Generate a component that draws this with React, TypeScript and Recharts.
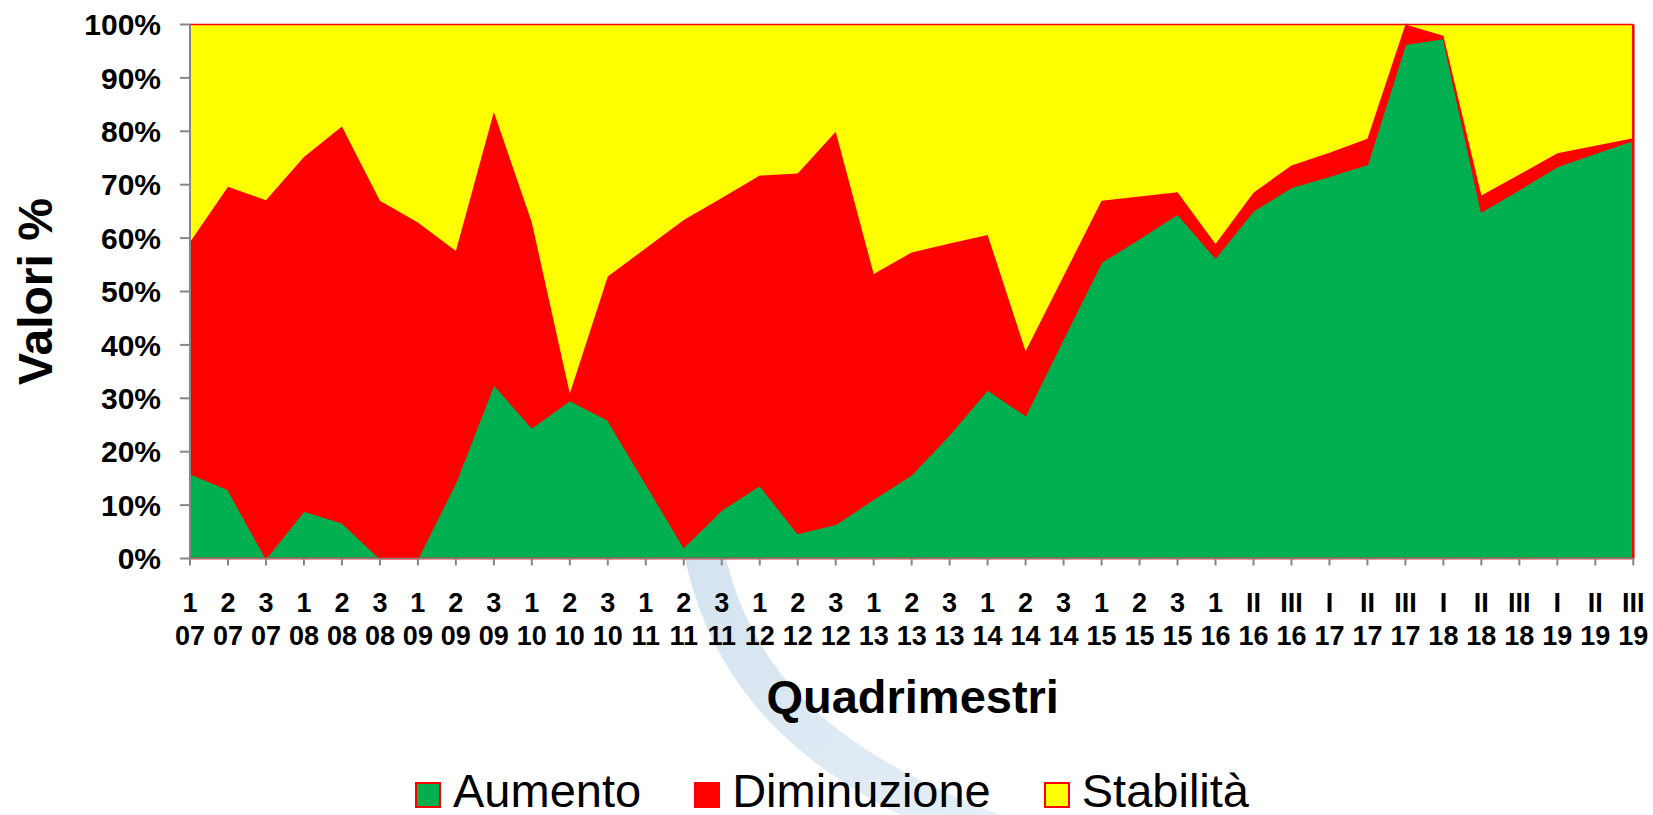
import React from 'react';
import {
  AreaChart,
  Area,
  XAxis,
  YAxis,
  Legend,
  Label,
  ReferenceLine,
} from 'recharts';

const periods = ['1','2','3','1','2','3','1','2','3','1','2','3','1','2','3','1','2','3','1','2','3','1','2','3','1','2','3','1','II','III','I','II','III','I','II','III','I','II','III'];
const years = ['07','07','07','08','08','08','09','09','09','10','10','10','11','11','11','12','12','12','13','13','13','14','14','14','15','15','15','16','16','16','17','17','17','18','18','18','19','19','19'];

const aumento = [15.9, 12.9, 0, 8.9, 6.7, 0, 0, 14.3, 32.6, 24.5, 29.6, 25.9, 14.0, 2.1, 9.1, 13.7, 4.7, 6.4, 11.1, 15.7, 23.2, 31.6, 26.8, 41.2, 55.5, 59.9, 64.5, 56.3, 65.1, 69.5, 71.6, 73.8, 96.3, 97.4, 64.9, 69.1, 73.4, 75.9, 78.3];
const diminuzione = [43.3, 56.7, 67.1, 66.3, 74.2, 67.0, 62.9, 43.3, 51.0, 38.4, 1.3, 26.9, 44.1, 61.3, 58.4, 58.0, 67.4, 73.5, 42.2, 41.6, 35.8, 29.0, 12.0, 11.7, 11.5, 7.9, 4.1, 2.6, 3.4, 4.1, 4.4, 4.8, 3.7, 0.5, 3.1, 2.8, 2.5, 1.4, 0.4];
const stabilita = [40.8, 30.4, 32.9, 24.8, 19.1, 33.0, 37.1, 42.4, 16.4, 37.1, 69.1, 47.2, 41.9, 36.6, 32.5, 28.3, 27.9, 20.1, 46.7, 42.7, 41.0, 39.4, 61.2, 47.1, 33.0, 32.2, 31.4, 41.1, 31.5, 26.4, 24.0, 21.4, 0, 2.1, 32.0, 28.1, 24.1, 22.7, 21.3];

const yTicks = [0, 0.1, 0.2, 0.3, 0.4, 0.5, 0.6, 0.7, 0.8, 0.9, 1];

const seriesInfo = [
  { key: 'Aumento', color: '#00B050' },
  { key: 'Diminuzione', color: '#FF0000' },
  { key: 'Stabilità', color: '#FFFF00' },
];

const data = periods.map((p, i) => ({
  label: `${p} ${years[i]}`,
  Aumento: aumento[i],
  Diminuzione: diminuzione[i],
  'Stabilità': stabilita[i],
}));

const FONT = '"Liberation Sans", Arial, Helvetica, sans-serif';
const GRAY = '#868686';

const XTick = (props: any) => {
  const { x, y, payload } = props;
  const [p, yr] = String(payload.value).split(' ');
  return (
    <g>
      <text x={x} y={y + 44.5} textAnchor="middle" fontFamily={FONT} fontSize={27} fontWeight="bold" fill="#000">
        {p}
      </text>
      <text x={x} y={y + 77.5} textAnchor="middle" fontFamily={FONT} fontSize={27} fontWeight="bold" fill="#000">
        {yr}
      </text>
    </g>
  );
};

const LegendContent = () => (
  <div
    style={{
      display: 'flex',
      alignItems: 'flex-start',
      paddingLeft: 415,
      height: 50,
      fontFamily: FONT,
      fontSize: 47,
      color: '#000',
    }}
  >
    {seriesInfo.map((s) => (
      <div key={s.key} style={{ display: 'flex', alignItems: 'flex-start', marginRight: 53 }}>
        <span
          style={{
            display: 'inline-block',
            width: 26,
            height: 26,
            boxSizing: 'border-box',
            background: s.color,
            border: '2px solid #FF0000',
            marginTop: 17,
            marginRight: 12,
          }}
        />
        <span style={{ lineHeight: '50px', marginTop: 1, whiteSpace: 'nowrap' }}>{s.key}</span>
      </div>
    ))}
  </div>
);

export default function App() {
  return (
    <div style={{ position: 'relative', width: 1653, height: 815, background: '#fff' }}>
      <style>{'body{margin:0;overflow:hidden;}'}</style>
      <svg
        width={1653}
        height={815}
        style={{ position: 'absolute', left: 0, top: 0, zIndex: 0 }}
      >
        <defs>
          <linearGradient id="wm" x1="0" y1="0" x2="1" y2="1">
            <stop offset="0" stopColor="#d2e2ef" />
            <stop offset="1" stopColor="#e6eff7" />
          </linearGradient>
        </defs>
        <path
          d="M 695 480 C 705 680, 820 770, 1010 840"
          fill="none"
          stroke="url(#wm)"
          strokeWidth={40}
        />
      </svg>
      <div style={{ position: 'absolute', left: 0, top: 0, zIndex: 1 }}>
        <AreaChart
          width={1653}
          height={815}
          data={data}
          stackOffset="expand"
          margin={{ top: 24.5, right: 19.7, left: 0, bottom: 0 }}
        >
          <XAxis
            dataKey="label"
            interval={0}
            tick={<XTick />}
            tickSize={7}
            tickMargin={2}
            height={206.5}
            axisLine={{ stroke: GRAY, strokeWidth: 1 }}
            tickLine={{ stroke: GRAY, strokeWidth: 2 }}
          >
            <Label
              content={(p: any) => {
                const vb = p.viewBox || { x: 190, y: 558.5, width: 1443.3 };
                return (
                  <text
                    x={vb.x + vb.width / 2 + 1}
                    y={vb.y + 154.5}
                    textAnchor="middle"
                    fontFamily={FONT}
                    fontSize={47}
                    fontWeight="bold"
                    fill="#000"
                  >
                    Quadrimestri
                  </text>
                );
              }}
            />
          </XAxis>
          <YAxis
            width={190}
            ticks={yTicks}
            domain={[0, 1]}
            tickFormatter={(v: number) => `${Math.round(v * 100)}%`}
            tick={{ fontFamily: FONT, fontSize: 30, fontWeight: 'bold', fill: '#000' }}
            tickSize={10}
            tickMargin={19}
            axisLine={{ stroke: GRAY, strokeWidth: 2 }}
            tickLine={{ stroke: GRAY, strokeWidth: 2 }}
          >
            <Label
              content={(p: any) => {
                const vb = p.viewBox || { x: 0, y: 24.5, width: 190, height: 534 };
                const cy = vb.y + vb.height / 2;
                const cx = 52;
                return (
                  <text
                    x={cx}
                    y={cy}
                    transform={`rotate(-90 ${cx} ${cy})`}
                    textAnchor="middle"
                    fontFamily={FONT}
                    fontSize={48}
                    fontWeight="bold"
                    fill="#000"
                  >
                    Valori %
                  </text>
                );
              }}
            />
          </YAxis>
          {seriesInfo.map((s) => (
            <Area
              key={s.key}
              type="linear"
              dataKey={s.key}
              stackId="1"
              fill={s.color}
              fillOpacity={1}
              stroke="#FF0000"
              strokeWidth={1.5}
              dot={false}
              activeDot={false}
              isAnimationActive={false}
            />
          ))}
          <ReferenceLine x={data[0].label} stroke="#FF0000" strokeWidth={2} />
          <ReferenceLine x={data[data.length - 1].label} stroke="#FF0000" strokeWidth={2.5} />
          <ReferenceLine y={0} stroke="#E03030" strokeWidth={2} />
          <Legend
            verticalAlign="bottom"
            content={() => <LegendContent />}
            wrapperStyle={{ left: 0, bottom: 0, width: 1653, height: 50 }}
          />
        </AreaChart>
      </div>
    </div>
  );
}
